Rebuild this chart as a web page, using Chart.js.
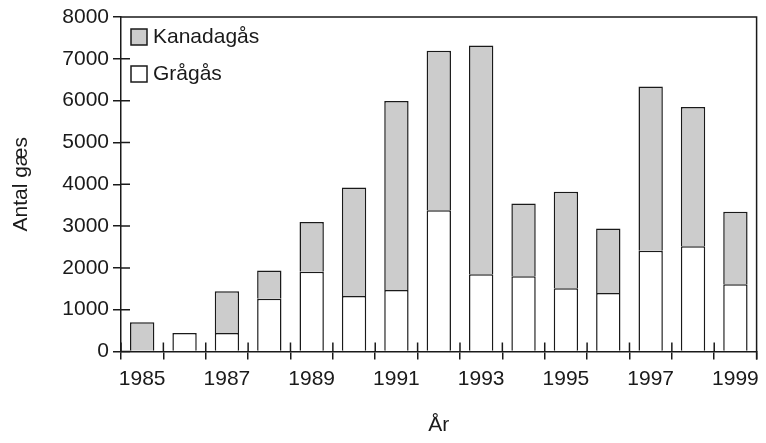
<!DOCTYPE html>
<html><head><meta charset="utf-8">
<script src="https://cdn.jsdelivr.net/npm/chart.js@4/dist/chart.umd.min.js"></script>
<style>html,body{margin:0;padding:0;background:#fff}</style>
</head><body>
<canvas id="c" width="766" height="443"></canvas>
<script>
const years = ['1985','1986','1987','1988','1989','1990','1991','1992','1993','1994','1995','1996','1997','1998','1999'];
const gragas = [0, 440, 440, 1260, 1910, 1330, 1470, 3380, 1850, 1800, 1510, 1400, 2410, 2520, 1610];
const kanadagas = [700, 0, 1000, 680, 1190, 2590, 4520, 3810, 5470, 1740, 2310, 1540, 3930, 3330, 1730];
const yTicks = [0, 1000, 2000, 3000, 4000, 5000, 6000, 7000, 8000];

const FONT = 'Liberation Sans, Arial, sans-serif';
const INK = '#1a1a1a';
const FS = 21;

const framePlugin = {
  id: 'frame',
  afterDraw(chart) {
    const {ctx, chartArea: a, scales: {x, y}} = chart;
    ctx.save();
    ctx.strokeStyle = INK;
    ctx.lineWidth = 1.5;
    ctx.beginPath();
    ctx.moveTo(a.left, a.top); ctx.lineTo(a.right, a.top); ctx.lineTo(a.right, a.bottom + 8);
    y.ticks.forEach(t => { const py = y.getPixelForValue(t.value); ctx.moveTo(a.left, py); ctx.lineTo(a.left + 9, py); });
    const n = years.length;
    for (let i = 0; i <= n; i++) {
      const px = i === 0 ? a.left : (i === n ? a.right : (x.getPixelForValue(i - 1) + x.getPixelForValue(i)) / 2);
      ctx.moveTo(px, a.bottom); ctx.lineTo(px, a.bottom - 9);
    }
    ctx.stroke();
    ctx.restore();
  }
};

const legendPlugin = {
  id: 'insideLegend',
  afterDraw(chart) {
    const {ctx, chartArea: a} = chart;
    const order = [1, 0];
    ctx.save();
    ctx.font = FS + 'px ' + FONT;
    ctx.textBaseline = 'middle';
    order.forEach((di, k) => {
      const ds = chart.data.datasets[di];
      const bx = a.left + 10, by = a.top + 12 + k * 37;
      ctx.fillStyle = ds.backgroundColor;
      ctx.fillRect(bx, by, 16, 16);
      ctx.strokeStyle = INK; ctx.lineWidth = 1.5;
      ctx.strokeRect(bx, by, 16, 16);
      ctx.fillStyle = INK;
      ctx.fillText(ds.label, bx + 22, by + 8);
    });
    ctx.restore();
  }
};

new Chart(document.getElementById('c'), {
  type: 'bar',
  data: {
    labels: years,
    datasets: [
      { label: 'Grågås', data: gragas, backgroundColor: '#ffffff', borderColor: INK, borderWidth: 1.5,
        barPercentage: 0.575, categoryPercentage: 1 },
      { label: 'Kanadagås', data: kanadagas, backgroundColor: '#cccccc', borderColor: INK, borderWidth: 1.5,
        barPercentage: 0.575, categoryPercentage: 1 }
    ]
  },
  options: {
    responsive: false,
    animation: false,
    layout: { padding: { left: 0, top: 17, right: 7, bottom: 0 } },
    plugins: { legend: { display: false }, tooltip: { enabled: false } },
    scales: {
      x: {
        stacked: true,
        offset: true,
        grid: { offset: true, drawOnChartArea: false, color: INK, lineWidth: 1.5, tickLength: 8 },
        border: { display: true, color: INK, width: 1.5 },
        ticks: {
          autoSkip: false, maxRotation: 0, color: INK, padding: 7,
          font: { family: FONT, size: FS },
          callback(v, i) { return i % 2 === 0 ? years[i] : ''; }
        },
        title: { display: true, text: 'År', color: INK, font: { family: FONT, size: FS }, padding: { top: 0, bottom: 5 } },
        afterFit(s) { s.height = 91.5; }
      },
      y: {
        stacked: true,
        min: 0, max: 8000,
        afterBuildTicks(s) { s.ticks = yTicks.map(v => ({ value: v })); },
        grid: { drawOnChartArea: false, color: INK, lineWidth: 1.5, tickLength: 8 },
        border: { display: true, color: INK, width: 1.5 },
        ticks: { color: INK, padding: 4, font: { family: FONT, size: FS }, callback(v) { return String(v); } },
        title: { display: true, text: 'Antal gæs', color: INK, font: { family: FONT, size: FS }, padding: { top: 9, bottom: 0 } },
        afterFit(s) { s.width = 121; }
      }
    }
  },
  plugins: [framePlugin, legendPlugin]
});
</script>
</body></html>
